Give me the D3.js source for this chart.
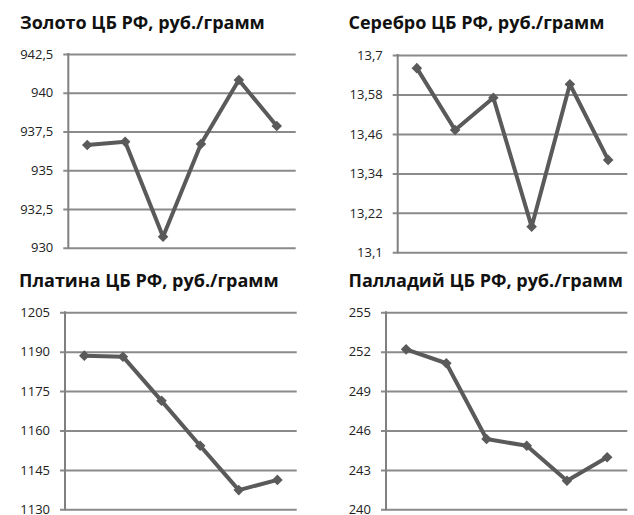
<!DOCTYPE html>
<html><head><meta charset="utf-8">
<script src="https://cdn.jsdelivr.net/npm/d3@7"></script>
<style>body{margin:0;background:#fff}svg{display:block}</style>
</head><body>
<svg id="c" width="634" height="515"></svg>
<script>
const periods = [1, 2, 3, 4, 5, 6];
const titles = ["Золото ЦБ РФ, руб./грамм", "Серебро ЦБ РФ, руб./грамм", "Платина ЦБ РФ, руб./грамм", "Палладий ЦБ РФ, руб./грамм"];
const goldValues = [936.63, 936.84, 930.71, 936.69, 940.82, 937.85];
const silverValues = [13.66, 13.472, 13.57, 13.178, 13.611, 13.381];
const platinumValues = [1188.5, 1188.1, 1171.3, 1154.2, 1137.3, 1141.2];
const palladiumValues = [252.18, 251.12, 245.35, 244.84, 242.18, 243.96];
const goldTicks = [930, 932.5, 935, 937.5, 940, 942.5];
const silverTicks = [13.1, 13.22, 13.34, 13.46, 13.58, 13.7];
const platinumTicks = [1130, 1145, 1160, 1175, 1190, 1205];
const palladiumTicks = [240, 243, 246, 249, 252, 255];

const panels = [
  {title: titles[0], values: goldValues, ticks: goldTicks, x0: 68.3, x1: 295.7, y0: 54, y1: 247.7, tx: 20, ty: 28.5},
  {title: titles[1], values: silverValues, ticks: silverTicks, x0: 397.7, x1: 627.3, y0: 55, y1: 252.3, tx: 348.5, ty: 28.5},
  {title: titles[2], values: platinumValues, ticks: platinumTicks, x0: 65, x1: 296.7, y0: 312.3, y1: 509.3, tx: 19, ty: 286.5},
  {title: titles[3], values: palladiumValues, ticks: palladiumTicks, x0: 386, x1: 627.3, y0: 312.3, y1: 509.3, tx: 348.5, ty: 286.5}
];

const svg = d3.select("#c");
const fmt = v => String(v).replace(".", ",");

panels.forEach(p => {
  const g = svg.append("g");
  const x = d3.scaleBand().domain(periods).range([p.x0, p.x1]);
  const ext = d3.extent(p.ticks);
  const y = d3.scaleLinear().domain(ext).range([p.y1, p.y0]);

  g.append("text").attr("x", p.tx).attr("y", p.ty)
    .attr("font-family", "'Open Sans', sans-serif").attr("font-weight", 700)
    .attr("font-size", 18).attr("fill", "#111").text(p.title);

  const ax = g.append("g").attr("transform", `translate(${p.x0},0)`)
    .call(d3.axisLeft(y).tickValues(p.ticks).tickFormat(fmt)
      .tickSize(-(p.x1 - p.x0)).tickSizeOuter(0).tickPadding(15));
  ax.select(".domain").remove();
  ax.selectAll(".tick line").attr("x1", -5).attr("stroke", "#8a8a8a").attr("stroke-width", 2);
  ax.selectAll(".tick text").attr("font-family", "'Open Sans', sans-serif")
    .attr("font-size", 13).attr("fill", "#222");

  g.append("line").attr("x1", p.x0).attr("x2", p.x0).attr("y1", p.y0 - 1).attr("y2", p.y1 + 1)
    .attr("stroke", "#808080").attr("stroke-width", 2);

  const cx = d => x(d) + x.bandwidth() / 2;
  const pts = periods.map((d, i) => [cx(d), y(p.values[i])]);
  g.append("path").attr("d", d3.line()(pts)).attr("fill", "none")
    .attr("stroke", "#5a5a5a").attr("stroke-width", 4).attr("stroke-linejoin", "round");

  g.selectAll("path.m").data(pts).join("path").attr("class", "m")
    .attr("transform", d => `translate(${d[0]},${d[1]}) rotate(45)`)
    .attr("d", d3.symbol().type(d3.symbolSquare).size(56))
    .attr("fill", "#5a5a5a");
});
</script>
</body></html>
